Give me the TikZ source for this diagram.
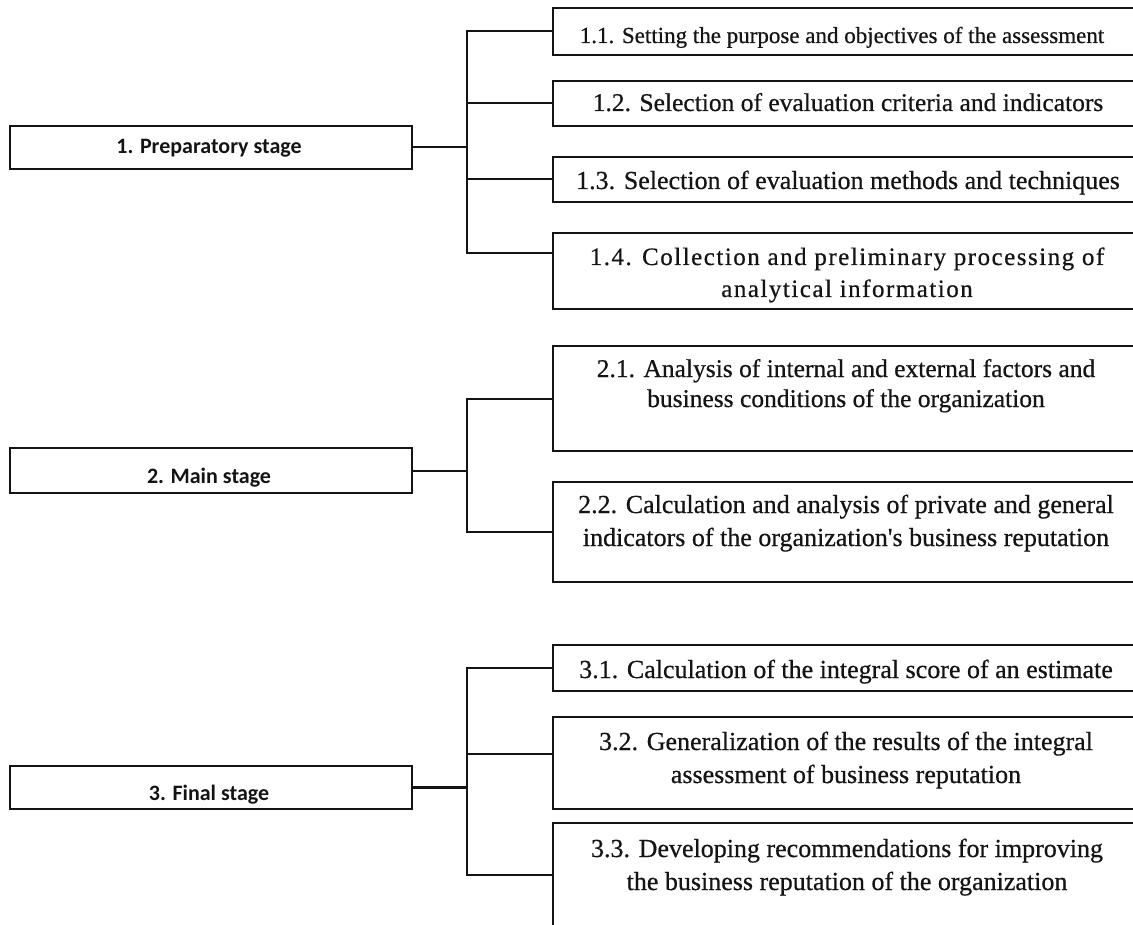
\documentclass[tikz,border=0pt]{standalone}
\usepackage{fontspec}
\setmainfont{Liberation Serif}[FakeBold=0.6,Ligatures=TeXOff]
\newfontfamily\stagefont{Carlito}
\newfontfamily\widefont{Liberation Serif}[LetterSpace=6,FakeBold=0.6,Ligatures=TeXOff]
\definecolor{ink}{HTML}{141414}

\begin{document}
\begin{tikzpicture}[x=1pt,y=-1pt,
  box/.style={draw=ink, line width=2pt, rectangle, inner sep=0pt, outer sep=0pt},
  stagebox/.style={box, minimum width=402pt},
  childbox/.style={box, minimum width=588pt},
  stagetext/.style={anchor=base, inner sep=0pt, text=ink,
    font=\stagefont\bfseries\fontsize{22}{25}\selectfont},
  childtext/.style={anchor=base, inner sep=0pt, align=center, text=ink,
    font=\fontsize{26}{33}\selectfont},
  link/.style={draw=ink, line width=2pt},
  thicklink/.style={draw=ink, line width=3pt}
]
\useasboundingbox (0,0) rectangle (1133,925);
\clip (0,0) rectangle (1133,925);

% stage boxes
\node[stagebox, minimum height=43pt] (s1) at (211,147.5) {};
\node[stagebox, minimum height=45pt] (s2) at (211,470.5) {};
\node[stagebox, minimum height=43pt] (s3) at (211,787.5) {};
\node[stagetext] (s1t) at (209,154) {1. Preparatory stage};
\node[stagetext] (s2t) at (209,483) {2. Main stage};
\node[stagetext] (s3t) at (209,800) {3. Final stage};

% step boxes
\node[childbox, minimum height=47pt]  (c11) at (847,31.5) {};
\node[childbox, minimum height=45pt]  (c12) at (847,103.5) {};
\node[childbox, minimum height=45pt]  (c13) at (847,179.5) {};
\node[childbox, minimum height=76pt]  (c14) at (847,271) {};
\node[childbox, minimum height=105pt] (c21) at (847,398.5) {};
\node[childbox, minimum height=100pt] (c22) at (847,532) {};
\node[childbox, minimum height=46pt]  (c31) at (847,668) {};
\node[childbox, minimum height=92pt]  (c32) at (847,763) {};
\node[childbox, minimum height=142pt] (c33) at (847,894) {};

% step texts (for two-line texts the base anchor sits on the last line)
\node[childtext, font=\fontsize{23}{33}\selectfont] (c11t) at (842,43)
  {1.1. Setting the purpose and objectives of the assessment};
\node[childtext, font=\fontsize{25.5}{33}\selectfont] (c12t) at (848,111)
  {1.2. Selection of evaluation criteria and indicators};
\node[childtext] (c13t) at (848,189) {1.3. Selection of evaluation methods and techniques};
\node[childtext, font=\widefont\fontsize{25}{32}\selectfont] (c14t) at (847,297)
  {1.4. Collection and preliminary processing of\\analytical information};
\node[childtext, font=\fontsize{25.5}{30}\selectfont] (c21t) at (846,407)
  {2.1. Analysis of internal and external factors and\\business conditions of the organization};
\node[childtext] (c22t) at (846,546)
  {2.2. Calculation and analysis of private and general\\indicators of the organization's business reputation};
\node[childtext] (c31t) at (846,678) {3.1. Calculation of the integral score of an estimate};
\node[childtext] (c32t) at (846,783)
  {3.2. Generalization of the results of the integral\\assessment of business reputation};
\node[childtext] (c33t) at (847,890)
  {3.3. Developing recommendations for improving\\the business reputation of the organization};

% trunk positions and off-centre branch points
\coordinate (t1) at (467,0);
\coordinate (t2) at (467,0);
\coordinate (t3) at (467,0);
\coordinate (b14) at (553,253);
\coordinate (b32) at (553,754);
\coordinate (b33) at (553,875);

% group 1
\draw[link] (s1.east) -- (s1.east -| t1);
\draw[link] (c11.west) -- (c11.west -| t1) -- (t1 |- b14) -- (b14);
\draw[link] (c12.west) -- (c12.west -| t1);
\draw[link] (c13.west) -- (c13.west -| t1);

% group 2
\draw[link] (s2.east) -- (s2.east -| t2);
\draw[link] (c21.west) -- (c21.west -| t2) -- (t2 |- c22.west) -- (c22.west);

% group 3
\draw[thicklink] (s3.east) -- (s3.east -| t3);
\draw[link] (c31.west) -- (c31.west -| t3) -- (t3 |- b33) -- (b33);
\draw[link] (b32) -- (b32 -| t3);
\end{tikzpicture}
\end{document}
